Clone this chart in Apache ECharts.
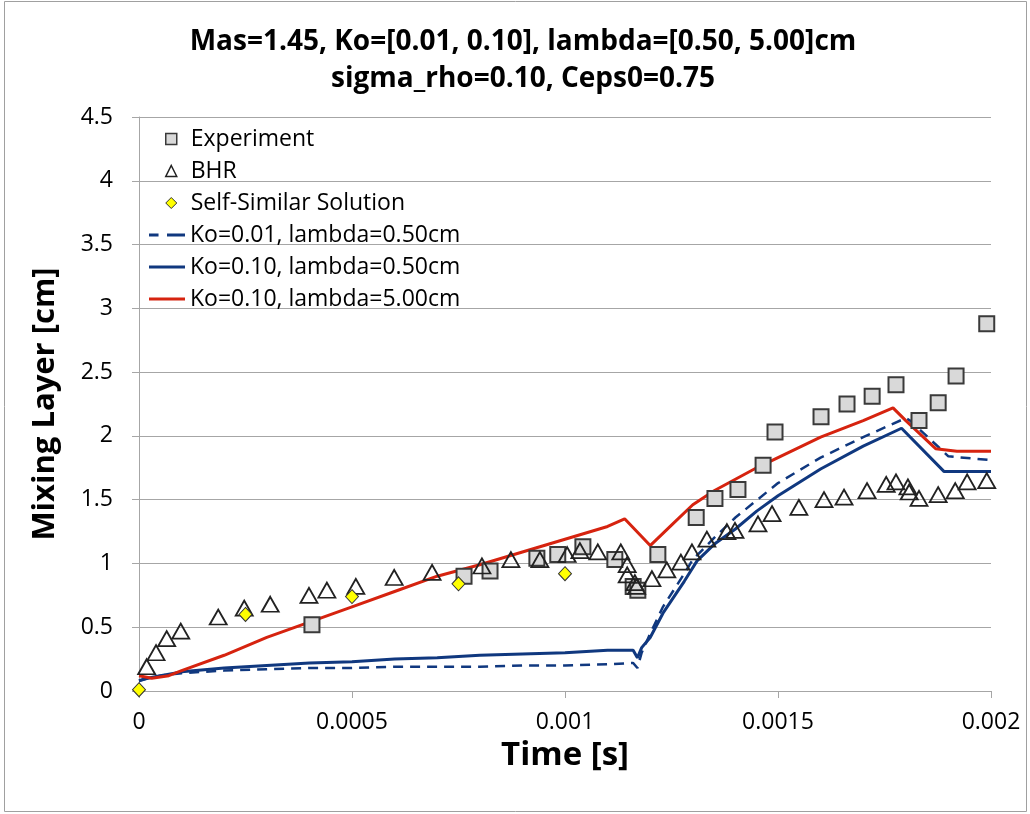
<!DOCTYPE html>
<html>
<head>
<meta charset="utf-8">
<script src="https://cdn.jsdelivr.net/npm/echarts@6/dist/echarts.min.js"></script>
<style>
  html, body { margin: 0; padding: 0; background: #fff; }
  #grafico { width: 1030px; height: 814px; }
</style>
</head>
<body>
<div id="grafico"></div>
<script>
// tick labels
var xTicks = ['0', '0.0005', '0.001', '0.0015', '0.002'];
var yTicks = ['0', '0.5', '1', '1.5', '2', '2.5', '3', '3.5', '4', '4.5'];

// Experiment
var expT = [0.000406, 0.000763, 0.000824, 0.000934, 0.000983, 0.001042, 0.001117, 0.00116, 0.001171, 0.001218,
            0.001308, 0.001352, 0.001406, 0.001465, 0.001493, 0.001601, 0.001662, 0.001721, 0.001777, 0.001831,
            0.001876, 0.001918, 0.00199];
var expY = [0.52, 0.90, 0.94, 1.04, 1.07, 1.13, 1.03, 0.82, 0.79, 1.07,
            1.36, 1.51, 1.58, 1.77, 2.03, 2.15, 2.25, 2.31, 2.40, 2.12,
            2.26, 2.47, 2.88];

// BHR
var bhrT = [0.000018, 0.00004, 0.000065, 0.000098, 0.000186, 0.000247, 0.000308, 0.000399, 0.000441, 0.000509,
            0.000599, 0.000688, 0.000805, 0.000873, 0.000941, 0.001005, 0.001035, 0.001077, 0.001131, 0.001146,
            0.001146, 0.001164, 0.001168, 0.001204, 0.001239, 0.001272, 0.001298, 0.001333, 0.00138, 0.001399,
            0.001453, 0.001486, 0.001549, 0.001608, 0.001655, 0.001709, 0.001754, 0.001777, 0.001805, 0.001808,
            0.001831, 0.001876, 0.001916, 0.001944, 0.00199];
var bhrY = [0.19, 0.30, 0.41, 0.47, 0.58, 0.65, 0.68, 0.75, 0.79, 0.82,
            0.89, 0.93, 0.98, 1.03, 1.03, 1.07, 1.10, 1.09, 1.09, 0.99,
            0.91, 0.85, 0.82, 0.88, 0.95, 1.01, 1.09, 1.19, 1.25, 1.26,
            1.31, 1.39, 1.44, 1.50, 1.52, 1.57, 1.62, 1.64, 1.60, 1.56,
            1.51, 1.54, 1.57, 1.64, 1.65];

// Self-Similar Solution
var ssT = [0, 0.00025, 0.0005, 0.00075, 0.001];
var ssY = [0.01, 0.60, 0.74, 0.84, 0.92];

// Ko=0.01, lambda=0.50cm
var ko01T = [0, 0.00002, 0.00005, 0.0001, 0.0002, 0.0003, 0.0004, 0.0005, 0.0006, 0.0007,
             0.0008, 0.0009, 0.001, 0.0011, 0.00116, 0.00117, 0.00118, 0.0012, 0.00123, 0.00128,
             0.0013, 0.00135, 0.0014, 0.0015, 0.0016, 0.0017, 0.0018, 0.00181, 0.0019, 0.002];
var ko01Y = [0.08, 0.10, 0.12, 0.14, 0.16, 0.17, 0.18, 0.18, 0.19, 0.19,
             0.19, 0.20, 0.20, 0.21, 0.22, 0.18, 0.30, 0.45, 0.66, 0.92,
             1.03, 1.20, 1.36, 1.63, 1.83, 1.99, 2.14, 2.12, 1.84, 1.81];

// Ko=0.10, lambda=0.50cm
var ko10T = [0, 0.00002, 0.00005, 0.0001, 0.0002, 0.0003, 0.0004, 0.0005, 0.0006, 0.0007,
             0.0008, 0.0009, 0.001, 0.0011, 0.00116, 0.00117, 0.00118, 0.0012, 0.00123, 0.00128,
             0.00131, 0.00135, 0.0014, 0.00145, 0.0015, 0.0016, 0.0017, 0.00179, 0.00189, 0.002];
var ko10Y = [0.08, 0.10, 0.12, 0.15, 0.18, 0.20, 0.22, 0.23, 0.25, 0.26,
             0.28, 0.29, 0.30, 0.32, 0.32, 0.26, 0.34, 0.42, 0.61, 0.86,
             1.02, 1.15, 1.27, 1.41, 1.53, 1.74, 1.92, 2.06, 1.72, 1.72];

// Ko=0.10, lambda=5.00cm
var lam5T = [0, 0.00003, 0.00007, 0.0001, 0.0002, 0.0003, 0.0004, 0.0005, 0.0006, 0.0007,
             0.0008, 0.0009, 0.001, 0.0011, 0.00114, 0.0012, 0.00125, 0.0013, 0.00135, 0.0014,
             0.00145, 0.0015, 0.0016, 0.0017, 0.00177, 0.0018, 0.00187, 0.00192, 0.002];
var lam5Y = [0.12, 0.10, 0.12, 0.16, 0.28, 0.42, 0.54, 0.66, 0.78, 0.90,
             0.99, 1.09, 1.19, 1.29, 1.35, 1.14, 1.30, 1.46, 1.57, 1.66,
             1.75, 1.83, 1.99, 2.12, 2.22, 2.12, 1.90, 1.88, 1.88];

function pares(t, y) {
    var out = [];
    t.forEach(function (v, i) { out.push([v, y[i]]); });
    return out;
}

var fonte = 'Open Sans';
var azul = '#10387f';
var vermelho = '#d6230f';

var myChart = echarts.init(document.getElementById('grafico'));

var textoLegenda = { fontFamily: fonte, fontSize: 23, lineHeight: 24, color: '#000' };

var option = {
    backgroundColor: '#fff',
    animation: false,
    title: {
        text: 'Mas=1.45, Ko=[0.01, 0.10], lambda=[0.50, 5.00]cm\nsigma_rho=0.10, Ceps0=0.75',
        left: 518,
        top: 19,
        textAlign: 'center',
        textStyle: { fontFamily: fonte, fontWeight: 'bold', fontSize: 28, lineHeight: 37, color: '#000' }
    },
    graphic: [{
        type: 'rect',
        shape: { x: 4.5, y: 1.5, width: 1022, height: 810 },
        style: { fill: 'none', stroke: '#a0a0a0', lineWidth: 1 },
        silent: true
    }],
    legend: [
        // simbolos (pontos)
        {
            orient: 'vertical',
            left: 160,
            top: 122,
            itemWidth: 11,
            itemHeight: 11,
            itemGap: 8,
            textStyle: Object.assign({ padding: [0, 0, 0, 9] }, textoLegenda),
            data: [
                { name: 'Experiment', itemStyle: { borderWidth: 1.5 } },
                { name: 'BHR', itemStyle: { borderWidth: 1.5 } },
                { name: 'Self-Similar Solution', itemStyle: { borderWidth: 1 } }
            ]
        },
        // linhas
        {
            orient: 'vertical',
            left: 144,
            top: 218,
            itemWidth: 36,
            itemHeight: 11,
            itemGap: 8,
            textStyle: textoLegenda,
            data: [
                { name: 'Ko=0.01, lambda=0.50cm', icon: 'path://M0,0H9V3H0Z M17,0H34V3H17Z', itemStyle: { borderWidth: 0 } },
                { name: 'Ko=0.10, lambda=0.50cm', icon: 'path://M0,0H36V3H0Z', itemStyle: { borderWidth: 0 } },
                { name: 'Ko=0.10, lambda=5.00cm', icon: 'path://M0,0H36V3H0Z', itemStyle: { borderWidth: 0 } }
            ]
        }
    ],
    grid: { left: 139, right: 39, top: 117, bottom: 123 },
    xAxis: {
        type: 'value',
        min: 0,
        max: 0.002,
        interval: 0.0005,
        name: 'Time [s]',
        nameLocation: 'middle',
        nameGap: 38,
        nameTextStyle: { fontFamily: fonte, fontWeight: 'bold', fontSize: 33, color: '#000' },
        axisLine: { show: true, lineStyle: { color: '#a6a6a6', width: 1 } },
        axisTick: { show: true, inside: false, length: 7, lineStyle: { color: '#a6a6a6' } },
        axisLabel: {
            margin: 20,
            fontFamily: fonte, fontSize: 23, color: '#000',
            formatter: function (v, i) { return xTicks[i]; }
        },
        splitLine: { show: false }
    },
    yAxis: {
        type: 'value',
        min: 0,
        max: 4.5,
        interval: 0.5,
        name: 'Mixing Layer [cm]',
        nameLocation: 'middle',
        nameRotate: 90,
        nameGap: 78,
        nameTextStyle: { fontFamily: fonte, fontWeight: 'bold', fontSize: 31, color: '#000' },
        axisLine: { show: true, lineStyle: { color: '#a6a6a6', width: 1 } },
        axisTick: { show: true, inside: false, length: 7, lineStyle: { color: '#a6a6a6' } },
        axisLabel: {
            margin: 26,
            fontFamily: fonte, fontSize: 23, color: '#000',
            formatter: function (v, i) { return yTicks[i]; }
        },
        splitLine: { show: true, lineStyle: { color: '#a6a6a6', width: 1 } }
    },
    series: [
        {
            name: 'Ko=0.01, lambda=0.50cm',
            type: 'line',
            data: pares(ko01T, ko01Y),
            showSymbol: false,
            symbol: 'none',
            color: azul,
            lineStyle: { color: azul, width: 2.5, type: [10, 7] },
            z: 2
        },
        {
            name: 'Ko=0.10, lambda=0.50cm',
            type: 'line',
            data: pares(ko10T, ko10Y),
            showSymbol: false,
            symbol: 'none',
            color: azul,
            lineStyle: { color: azul, width: 3 },
            z: 2
        },
        {
            name: 'Ko=0.10, lambda=5.00cm',
            type: 'line',
            data: pares(lam5T, lam5Y),
            showSymbol: false,
            symbol: 'none',
            color: vermelho,
            lineStyle: { color: vermelho, width: 3 },
            z: 2
        },
        {
            name: 'Experiment',
            type: 'scatter',
            data: pares(expT, expY),
            symbol: 'rect',
            symbolSize: 15,
            clip: false,
            itemStyle: { color: '#d9d9d9', borderColor: '#3a3a3a', borderWidth: 2, opacity: 1 },
            z: 3
        },
        {
            name: 'BHR',
            type: 'scatter',
            data: pares(bhrT, bhrY),
            symbol: 'triangle',
            symbolSize: [17, 15],
            clip: false,
            itemStyle: { color: 'rgba(255,255,255,0)', borderColor: '#222', borderWidth: 1.8, opacity: 1 },
            z: 4
        },
        {
            name: 'Self-Similar Solution',
            type: 'scatter',
            data: pares(ssT, ssY),
            symbol: 'diamond',
            symbolSize: [13, 14],
            clip: false,
            itemStyle: { color: '#ffff00', borderColor: '#333', borderWidth: 1, opacity: 1 },
            z: 5
        }
    ]
};

myChart.setOption(option);
</script>
</body>
</html>
